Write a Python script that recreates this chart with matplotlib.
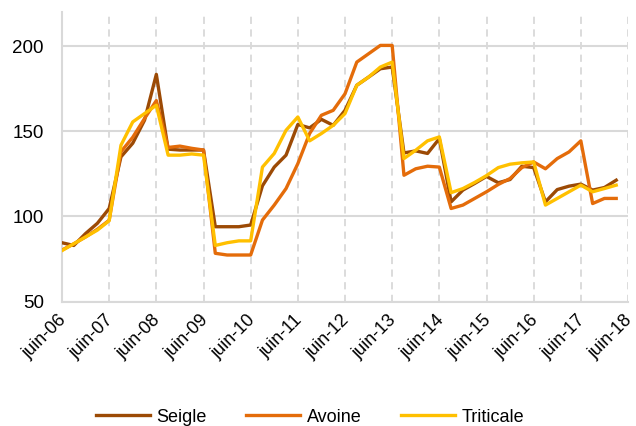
import numpy as np
import matplotlib
matplotlib.use('Agg')
import matplotlib.pyplot as plt
import matplotlib.transforms as mtransforms

# Quarterly price index, juin-06 .. mars-18
seigle = [84.6, 83, 90, 96, 104.7, 135, 143, 156.5, 183.4, 139.5, 139, 139, 139,
          94, 94, 94, 95, 118, 129, 136, 154, 152, 157, 153.5, 162.3,
          177, 181.8, 186.7, 187.7, 137.3, 138.5, 137, 145.7, 108.6, 115.5, 119.4,
          123.5, 119.8, 121.7, 129.5, 128.7, 108.6, 115.8, 117.8, 119, 115.5, 117, 121.3]
avoine = [80.3, 84, 88, 92.5, 97.8, 138, 146.5, 157.5, 168, 140.5, 141.3, 140, 139,
          78.4, 77.4, 77.4, 77.4, 97.9, 106.7, 116.4, 131, 148.7, 159.4, 162.3, 172,
          190.6, 195.5, 200.4, 200.4, 124.2, 128, 129.5, 129, 104.7, 106.7, 110.6,
          114.5, 118.8, 122.3, 128.7, 132, 128, 134, 137.9, 144.4, 107.6, 110.6, 110.6]
triticale = [80, 84, 88, 92, 97.5, 141.8, 155.5, 160.4, 165.3, 136, 136, 136.7, 136,
             83, 84.6, 85.7, 85.7, 129, 137, 150.6, 158.4, 144.4, 148.7, 153.5, 160.4,
             177, 181.8, 187.7, 190.6, 134, 138.9, 144.4, 146.7, 114, 116.4, 120,
             124, 128.7, 130.7, 131.5, 132, 106.7, 110.6, 114.5, 118.4, 114.5, 116.4, 118.4]
tick_labels = ['juin-06', 'juin-07', 'juin-08', 'juin-09', 'juin-10', 'juin-11', 'juin-12',
               'juin-13', 'juin-14', 'juin-15', 'juin-16', 'juin-17', 'juin-18']

plt.rcParams['font.family'] = ['Liberation Sans', 'DejaVu Sans']

fig = plt.figure(figsize=(6.36, 4.26), dpi=100)
ax = fig.add_axes([62 / 636, 1 - 301.7 / 426, 566 / 636, (301.7 - 12) / 426])

x = np.arange(len(seigle))
ax.plot(x, seigle, color='#9C4A05', lw=2.4, label='Seigle', zorder=3)
ax.plot(x, avoine, color='#E46C0A', lw=2.4, label='Avoine', zorder=3)
ax.plot(x, triticale, color='#FFC000', lw=2.4, label='Triticale', zorder=3)

ax.set_xlim(0, 48)
ax.set_ylim(50, 220)
ax.set_yticks([50, 100, 150, 200])
ax.set_xticks(np.arange(0, 49, 4))
ax.set_xticklabels(tick_labels, rotation=45, ha='right', rotation_mode='anchor')
ax.tick_params(axis='both', length=0, labelsize=13.5, colors='black')
ax.tick_params(axis='x', labelsize=13, pad=7)
ax.tick_params(axis='y', pad=13)

# nudge the rotated labels a little to the left so the last one stays inside
shift = mtransforms.ScaledTranslation(-3 / 72, 0, fig.dpi_scale_trans)
for lbl in ax.get_xticklabels():
    lbl.set_transform(lbl.get_transform() + shift)

ax.grid(axis='y', color='#D9D9D9', lw=1.5)
ax.grid(axis='x', color='#D9D9D9', lw=1.3, ls=(0, (4, 3)))
ax.set_axisbelow(True)
for s in ['top', 'right']:
    ax.spines[s].set_visible(False)
for s in ['left', 'bottom']:
    ax.spines[s].set_color('#D9D9D9')
    ax.spines[s].set_linewidth(1.5)

fig.legend(loc='center', bbox_to_anchor=(310 / 636, 1 - 417 / 426), ncol=3, frameon=False,
           fontsize=13, handlelength=3.0, handletextpad=0.35, columnspacing=2.2)

fig.savefig('out.png', dpi=100)
